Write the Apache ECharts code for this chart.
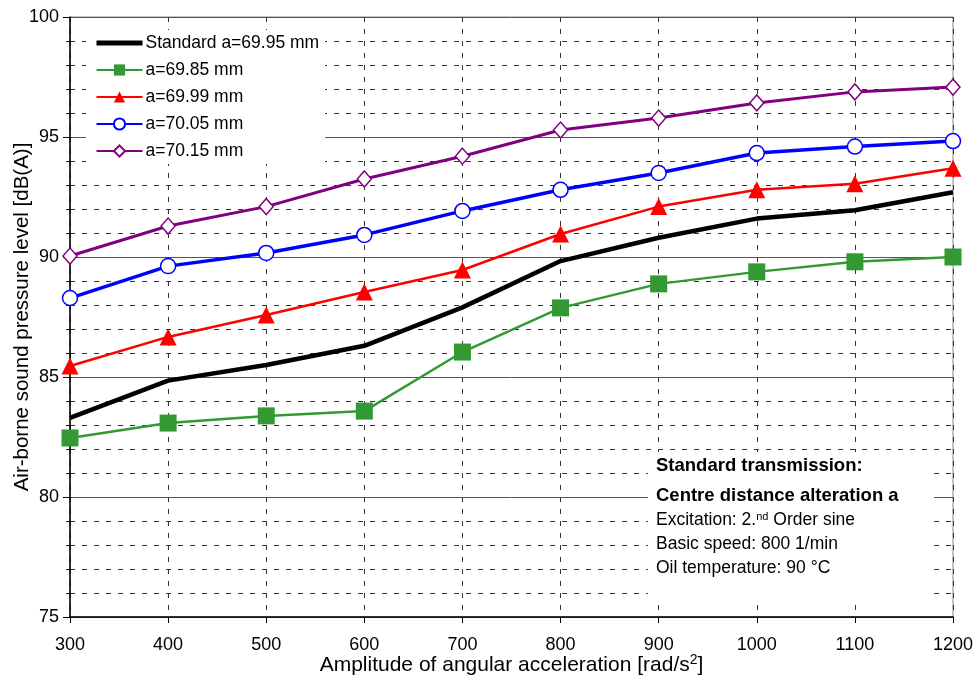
<!DOCTYPE html>
<html><head><meta charset="utf-8">
<script src="https://cdn.jsdelivr.net/npm/echarts@6/dist/echarts.min.js"></script>
<style>html,body{margin:0;padding:0;background:#fff}#c{width:974px;height:684px}</style>
</head><body><div id="c"></div>
<script>
const xValues = [300, 400, 500, 600, 700, 800, 900, 1000, 1100, 1200];
const standard = [83.3, 84.85, 85.5, 86.3, 87.9, 89.83, 90.8, 91.6, 91.95, 92.7];
const a6985 = [82.46, 83.08, 83.38, 83.58, 86.04, 87.88, 88.88, 89.38, 89.8, 90.0];
const a6999 = [85.46, 86.67, 87.58, 88.54, 89.46, 90.96, 92.1, 92.8, 93.05, 93.7];
const a7005 = [88.29, 89.62, 90.17, 90.92, 91.92, 92.8, 93.5, 94.33, 94.6, 94.83];
const a7015 = [90.04, 91.29, 92.1, 93.25, 94.2, 95.29, 95.79, 96.42, 96.88, 97.08];
const seriesNames = ['Standard a=69.95 mm', 'a=69.85 mm', 'a=69.99 mm', 'a=70.05 mm', 'a=70.15 mm'];
const yTicks = [75, 80, 85, 90, 95, 100];
const noteLines = ['Standard transmission:', 'Centre distance alteration a', 'Excitation: 2.', 'Basic speed: 800 1/min', 'Oil temperature: 90 °C'];

const pair = v => xValues.map((x, i) => [x, v[i]]);
const FONT = 'Liberation Sans, Arial, sans-serif';
const chart = echarts.init(document.getElementById('c'));
chart.setOption({
  animation: false,
  textStyle: { fontFamily: FONT },
  grid: { left: 70, right: 21, top: 17, bottom: 67, containLabel: false, outerBoundsMode: 'none', show: true, borderColor: '#888', borderWidth: 1, backgroundColor: 'transparent' },
  legend: {
    left: 86, top: 30, orient: 'vertical', itemWidth: 46, itemHeight: 14, itemGap: 9,
    backgroundColor: '#fff', padding: [4, 6, 4, 8],
    textStyle: { fontSize: 17.5, color: '#000', fontFamily: FONT, padding: [0, 0, 0, -2] },
    data: [
      { name: seriesNames[0], itemStyle: { opacity: 0 }, lineStyle: { width: 5, color: '#000', opacity: 1 } },
      seriesNames[1], seriesNames[2], seriesNames[3], seriesNames[4]
    ]
  },
  xAxis: {
    type: 'value', min: 300, max: 1200, interval: 100,
    axisLine: { lineStyle: { color: '#000', width: 1.5 } },
    axisTick: { show: true, length: 6, lineStyle: { color: '#000' } },
    axisLabel: { color: '#000', fontSize: 18, margin: 19, formatter: v => String(v) },
    splitLine: { show: true, lineStyle: { color: '#333', type: [5, 7], width: 1 } },
    name: 'Amplitude of angular acceleration [rad/s{sup|2}]',
    nameLocation: 'middle', nameGap: 36, nameMoveOverlap: false,
    nameTextStyle: { fontSize: 21, color: '#000', verticalAlign: 'top', rich: { sup: { fontSize: 14, verticalAlign: 'top', padding: [0, 0, 10, 0] } } }
  },
  yAxis: {
    type: 'value', min: 75, max: 100, interval: 5,
    axisLine: { show: true, lineStyle: { color: '#000', width: 1.5 } },
    axisTick: { show: true, length: 7, lineStyle: { color: '#000' } },
    minorTick: { show: true, splitNumber: 5, length: 4, lineStyle: { color: '#000' } },
    axisLabel: { color: '#000', fontSize: 18, margin: 11, formatter: v => yTicks.includes(v) ? String(v) : '' },
    splitLine: { show: true, lineStyle: { color: '#555', width: 1 } },
    minorSplitLine: { show: true, lineStyle: { color: '#333', type: [5, 7], width: 1 } },
    name: 'Air-borne sound pressure level [dB(A)]',
    nameLocation: 'middle', nameGap: 37, nameMoveOverlap: false,
    nameTextStyle: { fontSize: 20.5, color: '#000' }
  },
  series: [
    { name: seriesNames[0], type: 'line', data: pair(standard), symbol: 'none', lineStyle: { color: '#000', width: 4.5 }, itemStyle: { color: '#000' }, z: 5 },
    { name: seriesNames[1], type: 'line', data: pair(a6985), symbol: 'rect', symbolSize: 17, lineStyle: { color: '#339933', width: 2.5 }, itemStyle: { color: '#339933' }, z: 4 },
    { name: seriesNames[2], type: 'line', data: pair(a6999), symbol: 'triangle', symbolSize: 17, lineStyle: { color: '#ff0000', width: 2.5 }, itemStyle: { color: '#ff0000' }, z: 4 },
    { name: seriesNames[3], type: 'line', data: pair(a7005), symbol: 'circle', symbolSize: 15, lineStyle: { color: '#0000ff', width: 3.5 }, itemStyle: { color: '#fff', borderColor: '#0000ff', borderWidth: 1.5 }, z: 4 },
    { name: seriesNames[4], type: 'line', data: pair(a7015), symbol: 'diamond', symbolSize: [14, 16], lineStyle: { color: '#800080', width: 3 }, itemStyle: { color: '#fff', borderColor: '#800080', borderWidth: 1.5 }, z: 4 }
  ],
  graphic: [
    { type: 'rect', left: 648, top: 452, shape: { width: 286, height: 146 }, style: { fill: '#fff' }, z: 50 },
    { type: 'text', left: 656, top: 456, z: 51, style: { text: noteLines[0], font: 'bold 18.5px ' + FONT, fill: '#000' } },
    { type: 'text', left: 656, top: 486, z: 51, style: { text: noteLines[1], font: 'bold 18.5px ' + FONT, fill: '#000' } },
    { type: 'text', left: 656, top: 511, z: 51, style: { text: '{n|' + noteLines[2] + '}{s|nd}{n| Order sine}', rich: { n: { fontSize: 17.5, fontFamily: FONT, fill: '#000' }, s: { fontSize: 11, fontFamily: FONT, verticalAlign: 'top', padding: [0, 0, 8, 0] } }, fill: '#000' } },
    { type: 'text', left: 656, top: 535, z: 51, style: { text: noteLines[3], font: '17.5px ' + FONT, fill: '#000' } },
    { type: 'text', left: 656, top: 559, z: 51, style: { text: noteLines[4], font: '17.5px ' + FONT, fill: '#000' } }
  ]
});
</script></body></html>
